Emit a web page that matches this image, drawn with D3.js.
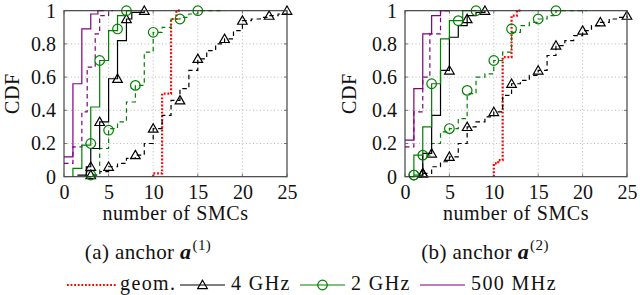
<!DOCTYPE html>
<html><head><meta charset="utf-8">
<script src="https://cdn.jsdelivr.net/npm/d3@7/dist/d3.min.js"></script>
<style>
body{margin:0;background:#fff}
text{font-family:"Liberation Serif","Times New Roman",serif;fill:#111}
</style>
</head><body><svg id="c" width="640" height="295"></svg>
<script>
// ---- tick labels / text ----
const xTicks=[0,5,10,15,20,25];
const yTicks=[0,0.2,0.4,0.6,0.8,1];
const yTickLabels=["0","0.2","0.4","0.6","0.8","1"];
const xLabel="number of SMCs";
const yLabel="CDF";
const captionLetters=["(a)","(b)"];
const captionIdx=["(1)","(2)"];
const legendLabels=["geom.","4 GHz","2 GHz","500 MHz"];

// ---- panel (a) ----
const a_geom_x=[10,10,11,12,12.6,13];
const a_geom_y=[0,0.02,0.5,0.95,1,1];
const a_4g_x=[1.5,2.5,3,4,5,6,7,7.6,9];
const a_4g_y=[0.01,0.06,0.17,0.33,0.59,0.82,0.95,0.99,1.0];
const a_4g_mx=[3,4,6,7,9];
const a_4g_my=[0.06,0.33,0.59,0.95,1.0];
const a_4gd_x=[2.5,3,4,5,6,7,8,9,10,11,12,13,14,15,16,17,18,19,20,21,22,23,24,25];
const a_4gd_y=[0,0.01,0.03,0.06,0.08,0.11,0.13,0.2,0.29,0.37,0.46,0.53,0.64,0.71,0.76,0.8,0.83,0.88,0.94,0.95,0.96,0.97,0.98,1.0];
const a_4gd_mx=[3,5,8,10,13,15,18,20,23,25];
const a_4gd_my=[0.01,0.06,0.13,0.29,0.46,0.71,0.83,0.94,0.97,1.0];
const a_2g_x=[1,1,2,3,4,5,6,7,7.5];
const a_2g_y=[0,0.05,0.19,0.42,0.7,0.88,0.97,1.0,1.0];
const a_2g_mx=[3,4,6,7];
const a_2g_my=[0.2,0.7,0.89,1.0];
const a_2gd_x=[2.5,3,4,5,6,7,8,9,10,11,12,13,14,15,18];
const a_2gd_y=[0,0.01,0.17,0.29,0.33,0.45,0.55,0.75,0.87,0.9,0.95,0.96,0.98,1.0,1.0];
const a_2gd_mx=[3,5,8,10,13,15];
const a_2gd_my=[0.01,0.28,0.55,0.87,0.95,1.0];
const a_500_x=[0,1,2,3,3.8,4.5];
const a_500_y=[0.12,0.56,0.89,0.98,1.0,1.0];
const a_500d_x=[0,1,2,2.6,3.5,4,5,5.5];
const a_500d_y=[0.08,0.18,0.39,0.66,0.86,0.97,1.0,1.0];

// ---- panel (b) ----
const b_geom_x=[10,10,10.5,11,12,12.6,13];
const b_geom_y=[0,0.08,0.1,0.72,0.97,1,1];
const b_4g_x=[1.5,2,3,4,5,6,7,8,9];
const b_4g_y=[0.01,0.14,0.37,0.64,0.84,0.91,0.97,0.99,1.0];
const b_4g_mx=[2,3,5,7,9];
const b_4g_my=[0.02,0.14,0.64,0.95,1.0];
const b_4gd_x=[1.5,2,3,4,5,6,7,8,9,10,11,12,13,14,15,16,17,18,19,20,21,22,23,24,25];
const b_4gd_y=[0,0.02,0.06,0.09,0.12,0.2,0.3,0.33,0.36,0.39,0.49,0.56,0.58,0.61,0.64,0.73,0.79,0.82,0.85,0.88,0.91,0.93,0.95,0.96,0.97];
const b_4gd_mx=[2,5,7,10,12,15,17,20,22,25];
const b_4gd_my=[0.02,0.12,0.3,0.39,0.56,0.64,0.79,0.88,0.93,0.97];
const b_2g_x=[0.5,1,2,3,4,5,6.5,8];
const b_2g_y=[0,0.13,0.3,0.56,0.83,0.94,1.0,1.0];
const b_2g_mx=[1,2,3,6,8];
const b_2g_my=[0.01,0.13,0.56,0.94,1.0];
const b_2gd_x=[1,2,3,4,5,6,7,8,9,10,11,12,13,14,15,16,17,20.5];
const b_2gd_y=[0.01,0.13,0.2,0.27,0.29,0.35,0.5,0.6,0.62,0.7,0.75,0.87,0.91,0.93,0.95,0.97,1.0,1.0];
const b_2gd_mx=[1,5,7,10,12,15,17];
const b_2gd_my=[0.01,0.29,0.52,0.7,0.89,0.95,1.0];
const b_500_x=[0,1,2,3,4,5];
const b_500_y=[0.22,0.53,0.86,0.97,1.0,1.0];
const b_500d_x=[0,1,2,2.8,4,5];
const b_500d_y=[0.18,0.39,0.6,0.86,1.0,1.0];

// ---- styles ----
const C_RED="#ff0000", C_BLK="#000000", C_GRN="#008000", C_PUR="#800080";
const svg=d3.select("#c");
const FS=20;

const panels=[
 {x0:64,x1:287,ylabX:18.5,series:[
  {x:a_geom_x,y:a_geom_y,c:C_RED,dot:true},
  {x:a_4gd_x,y:a_4gd_y,c:C_BLK,dash:true,mx:a_4gd_mx,my:a_4gd_my,m:"tri"},
  {x:a_2gd_x,y:a_2gd_y,c:C_GRN,dash:true,mx:a_2gd_mx,my:a_2gd_my,m:"circ"},
  {x:a_500d_x,y:a_500d_y,c:C_PUR,dash:true},
  {x:a_4g_x,y:a_4g_y,c:C_BLK,mx:a_4g_mx,my:a_4g_my,m:"tri"},
  {x:a_2g_x,y:a_2g_y,c:C_GRN,mx:a_2g_mx,my:a_2g_my,m:"circ"},
  {x:a_500_x,y:a_500_y,c:C_PUR}]},
 {x0:405,x1:627,ylabX:356,series:[
  {x:b_geom_x,y:b_geom_y,c:C_RED,dot:true},
  {x:b_4gd_x,y:b_4gd_y,c:C_BLK,dash:true,mx:b_4gd_mx,my:b_4gd_my,m:"tri"},
  {x:b_2gd_x,y:b_2gd_y,c:C_GRN,dash:true,mx:b_2gd_mx,my:b_2gd_my,m:"circ"},
  {x:b_500d_x,y:b_500d_y,c:C_PUR,dash:true},
  {x:b_4g_x,y:b_4g_y,c:C_BLK,mx:b_4g_mx,my:b_4g_my,m:"tri"},
  {x:b_2g_x,y:b_2g_y,c:C_GRN,mx:b_2g_mx,my:b_2g_my,m:"circ"},
  {x:b_500_x,y:b_500_y,c:C_PUR}]}
];
const Y0=176.7, Y1=10.7;
const triPath=d3.symbol().type(d3.symbolTriangle).size(40);

function drawMarker(g,type,cx,cy,color){
  if(type==="circ"){
    g.append("circle").attr("cx",cx).attr("cy",cy).attr("r",4.8)
     .attr("fill","none").attr("stroke",color).attr("stroke-width",1.2);
  } else {
    g.append("path").attr("d",triPath()).attr("transform",`translate(${cx},${cy+0.8})`)
     .attr("fill","none").attr("stroke",color).attr("stroke-width",1.2);
  }
}

panels.forEach((p,pi)=>{
  const x=d3.scaleLinear().domain([0,25]).range([p.x0,p.x1]);
  const y=d3.scaleLinear().domain([0,1]).range([Y0,Y1]);
  const g=svg.append("g");
  // grid
  g.selectAll(".gx").data(xTicks.slice(1,-1)).enter().append("line")
   .attr("x1",d=>x(d)).attr("x2",d=>x(d)).attr("y1",Y0).attr("y2",Y1)
   .attr("stroke","#b0b0b0").attr("stroke-width",0.9).attr("stroke-dasharray","1,2.5");
  g.selectAll(".gy").data(yTicks.slice(1,-1)).enter().append("line")
   .attr("x1",p.x0).attr("x2",p.x1).attr("y1",d=>y(d)).attr("y2",d=>y(d))
   .attr("stroke","#b0b0b0").attr("stroke-width",0.9).attr("stroke-dasharray","1,2.5");
  // series
  const sg=g.append("g");
  p.series.forEach(s=>{
    const pts=s.x.map((v,i)=>[v,s.y[i]]);
    const line=d3.line().x(d=>x(d[0])).y(d=>y(d[1])).curve(d3.curveStepAfter);
    const path=sg.append("path").attr("d",line(pts)).attr("fill","none")
      .attr("stroke",s.c).attr("stroke-width",s.dot?2.2:1.2);
    if(s.dot) path.attr("stroke-dasharray","1.8,1.8");
    else if(s.dash) path.attr("stroke-dasharray","4.5,3.5");
    if(s.mx){ s.mx.forEach((mx,i)=>drawMarker(sg,s.m,x(mx),y(s.my[i]),s.c)); }
  });
  // frame
  g.append("rect").attr("x",p.x0).attr("y",Y1).attr("width",p.x1-p.x0).attr("height",Y0-Y1)
   .attr("fill","none").attr("stroke","#333").attr("stroke-width",1.1);
  // axes labels via d3 axes (tick lines hidden, labels kept)
  const xa=d3.axisBottom(x).tickValues(xTicks).tickSize(0).tickPadding(8).tickFormat(d3.format("d"));
  const ga=g.append("g").attr("transform",`translate(0,${Y0})`).call(xa);
  ga.select(".domain").remove();
  ga.selectAll("text").attr("font-size",FS).attr("fill","#111");
  const ya=d3.axisLeft(y).tickValues(yTicks).tickSize(0).tickPadding(8).tickFormat((d,i)=>yTickLabels[i]);
  const gy=g.append("g").attr("transform",`translate(${p.x0},0)`).call(ya);
  gy.select(".domain").remove();
  gy.selectAll("text").attr("font-size",FS).attr("fill","#111");
  // small inner ticks
  xTicks.forEach(t=>{
    g.append("line").attr("x1",x(t)).attr("x2",x(t)).attr("y1",Y0).attr("y2",Y0-3).attr("stroke","#555").attr("stroke-width",0.8);
    g.append("line").attr("x1",x(t)).attr("x2",x(t)).attr("y1",Y1).attr("y2",Y1+3).attr("stroke","#555").attr("stroke-width",0.8);
  });
  yTicks.forEach(t=>{
    g.append("line").attr("x1",p.x0).attr("x2",p.x0+3).attr("y1",y(t)).attr("y2",y(t)).attr("stroke","#555").attr("stroke-width",0.8);
    g.append("line").attr("x1",p.x1).attr("x2",p.x1-3).attr("y1",y(t)).attr("y2",y(t)).attr("stroke","#555").attr("stroke-width",0.8);
  });
  // axis titles
  g.append("text").attr("x",(p.x0+p.x1)/2).attr("y",220).attr("text-anchor","middle")
   .attr("font-size",FS).attr("letter-spacing",0.6).text(xLabel);
  g.append("text").attr("transform",`translate(${p.ylabX},${(Y0+Y1)/2}) rotate(-90)`)
   .attr("text-anchor","middle").attr("font-size",FS).attr("letter-spacing",0.5).text(yLabel);
  // caption
  const cx = pi===0 ? 148 : 485;
  const ct=g.append("text").attr("x",cx).attr("y",259).attr("text-anchor","middle").attr("font-size",21).attr("letter-spacing",0.4);
  ct.append("tspan").text(captionLetters[pi]+" anchor ");
  ct.append("tspan").attr("font-weight","bold").attr("font-style","italic").attr("font-size",22).text("a");
  ct.append("tspan").attr("font-size",15).attr("dy",-9).attr("dx",1).text(captionIdx[pi]);
});

// legend
const lg=svg.append("g");
const ly=285, lty=290;
const legItems=[
 {x1:67,x2:116,c:C_RED,dot:true,tx:120},
 {x1:180,x2:225,c:C_BLK,m:"tri",tx:231},
 {x1:300,x2:345,c:C_GRN,m:"circ",tx:351},
 {x1:420,x2:465,c:C_PUR,tx:471}
];
legItems.forEach((it,i)=>{
  const l=lg.append("line").attr("x1",it.x1).attr("x2",it.x2).attr("y1",ly).attr("y2",ly)
    .attr("stroke",it.c).attr("stroke-width",it.dot?2.2:1.2);
  if(it.dot) l.attr("stroke-dasharray","1.8,1.8");
  if(it.m) drawMarker(lg,it.m,(it.x1+it.x2)/2,ly,it.c);
  lg.append("text").attr("x",it.tx).attr("y",lty).attr("font-size",20).attr("letter-spacing",1.4).text(legendLabels[i]);
});
</script>
</body></html>
